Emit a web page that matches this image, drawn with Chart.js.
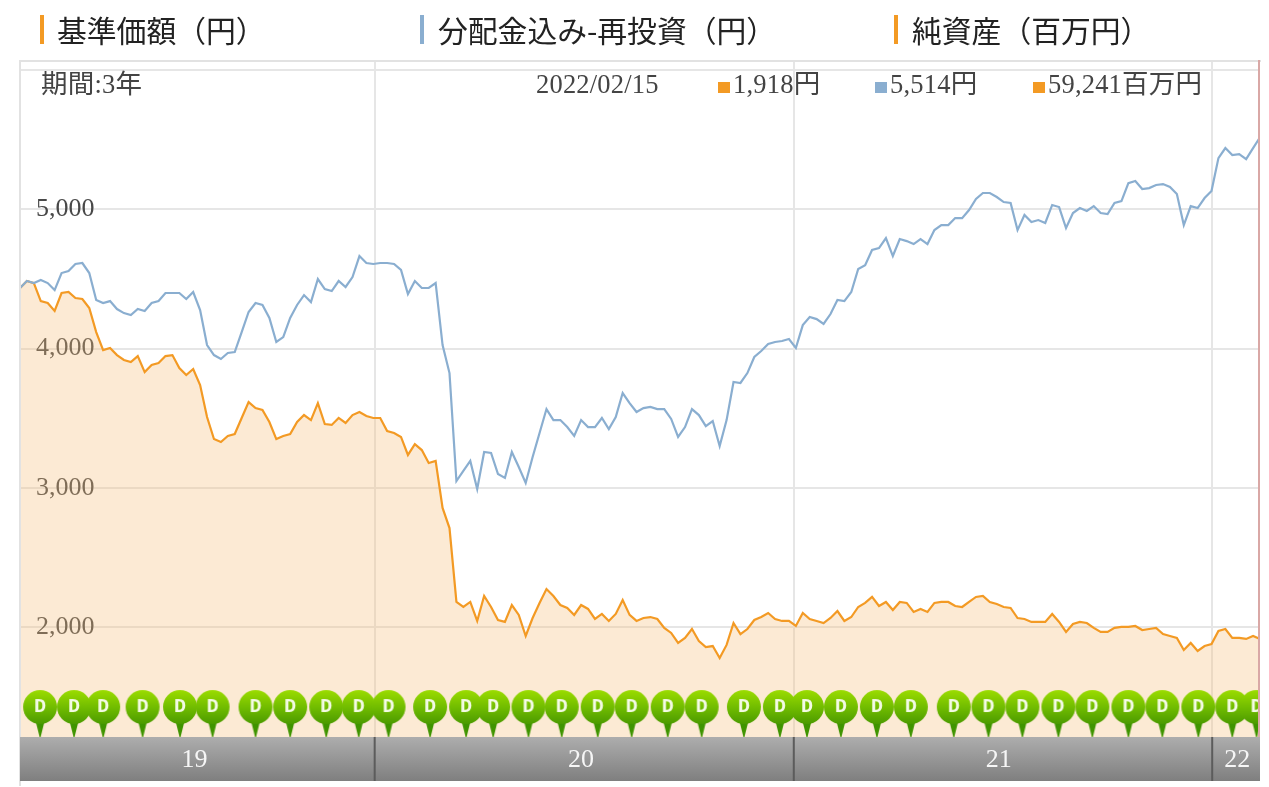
<!DOCTYPE html>
<html lang="ja">
<head>
<meta charset="utf-8">
<title>基準価額</title>
<script src="https://cdn.jsdelivr.net/npm/chart.js@4"></script>
<style>
  html, body { margin: 0; padding: 0; background: #fff; }
  #wrap { position: relative; width: 1269px; height: 787px; overflow: hidden; }
  #myChart { position: absolute; left: 0; top: 0; }
  .head { position: absolute; top: 9px; height: 40px; font: 29.8px/40px "Noto Sans CJK JP", sans-serif; color: #222; white-space: nowrap; }
  .bar { position: absolute; top: 15px; width: 4px; height: 29px; }
  .info { position: absolute; top: 68px; line-height: 32px; font-size: 26.5px; letter-spacing: 0.2px; font-family: "Liberation Serif", "Noto Sans CJK JP", serif; color: #444; white-space: nowrap; }
  .info i { display: inline-block; width: 12px; height: 11px; margin-right: 3px; vertical-align: 0; }
</style>
</head>
<body>
<div id="wrap">
  <canvas id="myChart" width="1269" height="787"></canvas>
</div>
<script>
// 読み取り値 (週次)
const navValues = [
  4434,4484,4469,4340,4326,4269,4398,4405,4362,4355,
  4290,4118,3989,4004,3953,3918,3903,3946,3831,3882,
  3896,3946,3953,3860,3810,3853,3738,3509,3351,3330,
  3373,3387,3502,3616,3573,3559,3473,3351,3373,3387,
  3473,3523,3487,3609,3459,3452,3502,3466,3523,3545,
  3516,3502,3502,3409,3394,3366,3237,3315,3272,3179,
  3194,2857,2713,2183,2147,2183,2047,2226,2147,2054,
  2040,2161,2090,1939,2068,2176,2276,2226,2161,2140,
  2090,2161,2133,2061,2097,2047,2097,2197,2090,2047,
  2068,2075,2061,1997,1961,1889,1925,1989,1903,1860,
  1867,1781,1875,2032,1953,1989,2054,2075,2104,2061,
  2047,2047,2011,2104,2061,2047,2032,2068,2118,2047,
  2075,
  2147,2176,2219,2154,2183,2125,2183,2176,2111,2133,
  2111,2176,2183,2183,2154,2147,2183,2219,2226,2183,
  2168,2147,2140,2068,2061,2040,2040,2040,2097,2040,
  1968,2025,2040,2032,1997,1968,1968,1997,2004,2004,
  2011,1982,1989,1997,1953,1939,1925,1839,1889,1832,
  1867,1881,1975,1989,1925,1925,1918,1939,1918
];
const reinvestValues = [
  4434,4484,4469,4491,4469,4419,4541,4555,4606,4613,
  4541,4348,4326,4340,4283,4254,4240,4283,4269,4326,
  4340,4398,4398,4398,4355,4405,4276,4025,3953,3925,
  3968,3975,4118,4262,4326,4312,4219,4047,4082,4219,
  4312,4383,4333,4498,4426,4412,4484,4441,4512,4663,
  4613,4606,4613,4613,4606,4563,4391,4484,4434,4434,
  4469,4025,3824,3050,3122,3194,2993,3258,3251,3100,
  3072,3258,3150,3036,3222,3394,3566,3487,3487,3437,
  3373,3487,3437,3437,3502,3423,3509,3681,3609,3545,
  3573,3581,3566,3566,3495,3366,3437,3566,3523,3444,
  3480,3301,3487,3760,3753,3824,3939,3982,4032,4047,
  4054,4068,4004,4168,4226,4211,4176,4247,4348,4340,
  4405,
  4570,4598,4706,4720,4792,4663,4785,4770,4749,4785,
  4749,4849,4885,4885,4935,4935,4993,5072,5115,5115,
  5086,5050,5043,4849,4957,4907,4921,4900,5029,5014,
  4864,4971,5007,4986,5021,4971,4964,5043,5057,5186,
  5201,5143,5150,5172,5179,5158,5107,4885,5021,5007,
  5079,5129,5365,5437,5387,5394,5358,5437,5514
];
// 分配金の週
const dividendWeeks = [
  2.9,7.8,12,17.7,23.1,27.8,34,39,44.2,48.9,
  53.2,59.2,64.4,68.3,73.4,78.2,83.4,88.3,93.5,98.4,104.5,109.7,
  113.6,118.5,123.7,128.6,134.8,139.8,144.7,149.9,154.8,160,164.9,170.1,175,178.5
];
const yTickValues = [2000, 3000, 4000, 5000, 6000];
const yTickLabels = ["2,000", "3,000", "4,000", "5,000", ""];
const yearStarts = [51.2, 111.7, 172.1];
const yearLabels = ["19", "20", "21", "22"];
const yearCenters = [25.2, 81, 141.3, 175.7];
const headers = ["基準価額（円）", "分配金込み-再投資（円）", "純資産（百万円）"];
const infoPeriod = "期間:3年";
const infoDate = "2022/02/15";
const infoValues = ["1,918円", "5,514円", "59,241百万円"];

const ORANGE = "#f39a24";
const BLUE = "#8aaed0";

function addHtml(cls, left, text, color){
  const el = document.createElement("div");
  el.className = cls;
  el.style.left = left + "px";
  if(color){
    const sq = document.createElement("i");
    sq.style.background = color;
    el.appendChild(sq);
  }
  el.appendChild(document.createTextNode(text));
  document.getElementById("wrap").appendChild(el);
}

function addBar(left, color){
  const el = document.createElement("div");
  el.className = "bar";
  el.style.left = left + "px";
  el.style.background = color;
  document.getElementById("wrap").appendChild(el);
}

addBar(40, ORANGE); addHtml("head", 57, headers[0]);
addBar(420, BLUE); addHtml("head", 438, headers[1]);
addBar(894, ORANGE); addHtml("head", 912, headers[2]);
addHtml("info", 41, infoPeriod);
addHtml("info", 536, infoDate);
addHtml("info", 718, infoValues[0], ORANGE);
addHtml("info", 875, infoValues[1], BLUE);
addHtml("info", 1033, infoValues[2], ORANGE);

function makePin(){
  const c = document.createElement("canvas");
  c.width = 36; c.height = 48;
  const g = c.getContext("2d");
  const grad = g.createLinearGradient(0, 1, 0, 35);
  grad.addColorStop(0, "#9bdc00");
  grad.addColorStop(0.5, "#72bd00");
  grad.addColorStop(1, "#4b9a00");
  g.fillStyle = "#3f9400";
  g.beginPath();
  g.moveTo(13, 30); g.lineTo(23, 30); g.lineTo(18.5, 48); g.lineTo(17.5, 48);
  g.closePath();
  g.fill();
  g.fillStyle = grad;
  g.beginPath();
  g.arc(18, 18, 17, 0, Math.PI * 2);
  g.fill();
  g.fillStyle = "#f4fbe6";
  g.font = "bold 20px 'Liberation Mono', monospace";
  g.textAlign = "center";
  g.textBaseline = "middle";
  g.fillText("D", 18, 18);
  return c;
}

const bandPlugin = {
  id: "band",
  afterDraw(chart){
    const {ctx, chartArea, scales} = chart;
    const left = chartArea.left, right = chartArea.right, bottom = chartArea.bottom;
    const h = 44;
    ctx.save();
    // 枠
    ctx.fillStyle = "#e2e2e2";
    ctx.fillRect(left - 1, chartArea.top - 2, right - left + 2, 2);
    ctx.fillRect(left - 1, chartArea.top, 2, bottom - chartArea.top + h + 5);
    // 右端のカーソル
    ctx.fillStyle = "#d9a8a6";
    ctx.fillRect(right - 2, chartArea.top - 2, 2, bottom - chartArea.top + 2);
    // 年の帯
    const grad = ctx.createLinearGradient(0, bottom, 0, bottom + h);
    grad.addColorStop(0, "#adadad");
    grad.addColorStop(1, "#7f7f7f");
    ctx.fillStyle = grad;
    ctx.fillRect(left, bottom, right - left, h);
    ctx.fillStyle = "#5c5c5c";
    yearStarts.forEach(function(w){
      ctx.fillRect(scales.x.getPixelForValue(w) - 1, bottom, 2, h);
    });
    ctx.fillStyle = "#f6f6f6";
    ctx.font = "26px 'Liberation Serif', serif";
    ctx.textAlign = "center";
    ctx.textBaseline = "middle";
    yearLabels.forEach(function(label, i){
      ctx.fillText(label, scales.x.getPixelForValue(yearCenters[i]), bottom + h / 2 + 1);
    });
    ctx.restore();
  }
};

new Chart("myChart", {
  type: "scatter",
  data: {
    datasets: [{
      label: "分配金",
      data: dividendWeeks.map(w => ({x: w, y: 1387})),
      pointStyle: makePin(),
      showLine: false,
      order: 0
    }, {
      label: "分配金込み-再投資",
      data: reinvestValues.map((v, i) => ({x: i, y: v})),
      showLine: true,
      borderColor: BLUE,
      borderWidth: 2.2,
      pointRadius: 0,
      tension: 0,
      fill: false,
      order: 1
    }, {
      label: "基準価額",
      data: navValues.map((v, i) => ({x: i, y: v})),
      showLine: true,
      borderColor: ORANGE,
      borderWidth: 2.2,
      backgroundColor: "rgba(247,190,120,0.32)",
      pointRadius: 0,
      tension: 0,
      fill: "start",
      order: 2
    }]
  },
  options: {
    responsive: false,
    animation: false,
    events: [],
    layout: { padding: { left: 20, right: 9, top: 62, bottom: 50 } },
    plugins: { legend: { display: false }, tooltip: { enabled: false } },
    scales: {
      x: {
        type: "linear",
        min: 0,
        max: navValues.length - 1,
        afterBuildTicks(axis){ axis.ticks = yearStarts.map(v => ({value: v})); },
        ticks: { display: false },
        grid: { color: "#e6e6e6", lineWidth: 2, drawTicks: false },
        border: { display: false }
      },
      y: {
        min: 1215,
        max: 6054,
        afterFit(axis){ axis.width = 0; },
        afterBuildTicks(axis){ axis.ticks = yTickValues.map(v => ({value: v})); },
        ticks: {
          mirror: true,
          padding: 16,
          color: "#484848",
          font: { family: "'Liberation Serif', serif", size: 26 },
          callback(value){ return yTickLabels[yTickValues.indexOf(value)]; }
        },
        grid: { color: "#e6e6e6", lineWidth: 2, drawTicks: false },
        border: { display: false }
      }
    }
  },
  plugins: [bandPlugin]
});
</script>
</body>
</html>
